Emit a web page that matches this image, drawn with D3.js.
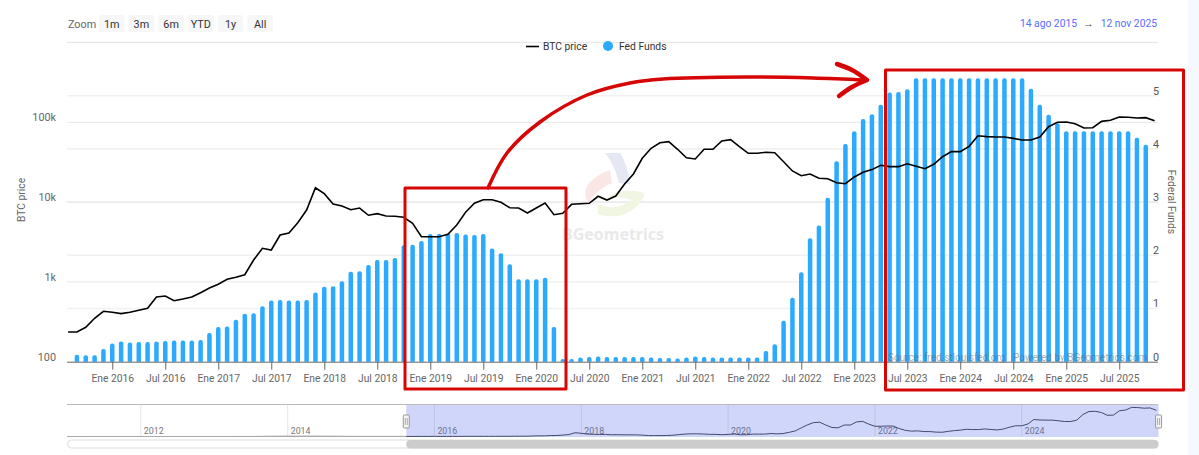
<!DOCTYPE html>
<html>
<head>
<meta charset="utf-8">
<script src="https://cdn.jsdelivr.net/npm/d3@7"></script>
<style>
	html, body { margin: 0; padding: 0; background: #f5f8ff; }
	svg { display: block; font-family: Roboto, "Noto Sans", sans-serif; }
</style>
</head>
<body>
<div id="graph"></div>
<script>
// monthly values, first month is Aug 2015, last one is Nov 2025
var btcPrice = [
	236, 236, 270, 350, 428,
	416, 400, 416, 441, 467, 647, 665, 581, 611, 647, 733, 839,
	933, 1078, 1142, 1230, 1880, 2636, 2510, 3870, 4100, 5520, 7960, 15140,
	12740, 9470, 8930, 8030, 8430, 6840, 7160, 6700, 6640, 6450, 5420, 3680,
	3680, 3680, 3950, 5160, 7450, 9660, 10720, 10720, 9940, 8510, 8430, 7300,
	8430, 9750, 6950, 7240, 9380, 9550, 9660, 11830, 10620, 11920, 16870, 22490,
	35400, 47200, 55460, 57150, 45900, 35980, 34680, 45900, 45900, 58300, 60500, 49440,
	40900, 40900, 42100, 41600, 32060, 24550, 21430, 22490, 19860, 19630, 17500, 17000,
	20650, 23600, 25530, 28900, 27800, 27800, 30270, 28100, 26200, 29780, 37070, 42850,
	42850, 50000, 67900, 66070, 65460, 65460, 62950, 59980, 59980, 65460, 88100, 100000,
	100700, 95960, 84900, 85500, 102800, 105900, 116400, 115600, 113200, 114300, 104700
];
// bars go from Sep 2015 to Oct 2025
var fedFunds = [
	0.13, 0.12, 0.12, 0.24,
	0.34, 0.38, 0.36, 0.37, 0.37, 0.38, 0.39, 0.40, 0.40, 0.40, 0.41, 0.54,
	0.65, 0.66, 0.79, 0.90, 0.91, 1.04, 1.15, 1.16, 1.15, 1.15, 1.16, 1.30,
	1.41, 1.42, 1.51, 1.69, 1.70, 1.82, 1.91, 1.91, 1.95, 2.19, 2.20, 2.27,
	2.40, 2.40, 2.41, 2.42, 2.39, 2.38, 2.40, 2.13, 2.04, 1.83, 1.55, 1.55,
	1.55, 1.58, 0.65, 0.05, 0.05, 0.08, 0.09, 0.10, 0.09, 0.09, 0.09, 0.09,
	0.09, 0.08, 0.07, 0.07, 0.06, 0.08, 0.10, 0.09, 0.08, 0.08, 0.08, 0.08,
	0.08, 0.08, 0.20, 0.33, 0.77, 1.20, 1.68, 2.32, 2.56, 3.08, 3.77, 4.09,
	4.33, 4.56, 4.65, 4.83, 5.06, 5.07, 5.12, 5.33, 5.33, 5.33, 5.33, 5.33,
	5.33, 5.33, 5.33, 5.33, 5.33, 5.33, 5.33, 5.33, 5.13, 4.83, 4.64, 4.48,
	4.33, 4.33, 4.33, 4.33, 4.33, 4.33, 4.33, 4.33, 4.21, 4.08
];
// only the navigator shows the years before the main chart
var earlyDates = ["2011-01", "2011-07", "2012-01", "2012-07", "2013-01", "2013-07", "2014-01", "2014-07", "2015-01", "2015-07"];
var earlyPrice = [1, 15, 6, 9, 14, 90, 800, 600, 220, 280];

var btcTicks = [100, 1000, 10000, 100000, 1000000];
var btcLabels = ["100", "1k", "10k", "100k", ""];
var fedTicks = [0, 1, 2, 3, 4, 5];
var zoomButtons = ["1m", "3m", "6m", "YTD", "1y", "All"];
var monthNames = { 0: "Ene", 6: "Jul" };

var width = 1199, height = 455;
var parseMonth = d3.utcParse("%Y-%m");
var months = d3.utcMonth.range(Date.UTC(2015, 7, 1), Date.UTC(2025, 11, 1));
var barMonths = months.slice(1, 123);
var red = "#d60606";
var fontSize = 10.3;

var vis = d3.select("#graph").append("svg").attr("width", width).attr("height", height);
vis.append("rect").attr("width", 1188).attr("height", height).attr("fill", "#fff");

var x = d3.scalePoint().domain(months).range([68.1, 1154.6]);
var yBtc = d3.scaleLog().domain([100, 1000000]).range([361.7, 42.5]);
var yFed = d3.scaleLinear().domain([0, 6]).range([361.7, 42.5]);

// grid lines first
vis.append("g").selectAll("line").data(d3.range(1, 7)).enter().append("line")
	.attr("x1", 67).attr("x2", 1158)
	.attr("y1", function (d) { return yFed(d); })
	.attr("y2", function (d) { return yFed(d); })
	.attr("stroke", "#f1f1f1").attr("stroke-width", 1.6);
vis.append("g").selectAll("line").data(btcTicks.slice(1)).enter().append("line")
	.attr("x1", 67).attr("x2", 1158)
	.attr("y1", function (d) { return yBtc(d); })
	.attr("y2", function (d) { return yBtc(d); })
	.attr("stroke", "#e8e8e8");

// watermark
var logo = vis.append("g");
logo.append("path").attr("d", "M605,153 L620,153 Q628,165 630,184 L619,183 Q615,165 605,153Z").attr("fill", "#e5e7f2");
logo.append("path").attr("d", "M610,170 L612,183 Q598,188 588,204 Q582,190 590,182 Q598,174 610,170Z").attr("fill", "#fbe6e6");
logo.append("path").attr("d", "M606,198 Q622,186 645,193 Q638,212 618,216 Q605,217 598,214 L598,204 Q615,212 632,200 Q620,195 606,198Z").attr("fill", "#f1f6e2");
vis.append("text").attr("x", 562).attr("y", 240).attr("fill", "#e9e9e9")
	.attr("font-family", "Noto Sans").attr("font-size", 16).attr("font-weight", 700).text("BGeometrics");

// fed funds bars with a rounded top
var barW = 4.5, barR = 2;
vis.append("g").selectAll("path").data(fedFunds).enter().append("path")
	.attr("fill", "#2baaff")
	.attr("d", function (d, i) {
		var cx = x(barMonths[i]);
		var top = yFed(d), base = yFed(0);
		var r = Math.min(barR, base - top);
		return "M" + (cx - barW / 2) + "," + base + "V" + (top + r) +
			"Q" + (cx - barW / 2) + "," + top + " " + (cx - barW / 2 + r) + "," + top +
			"H" + (cx + barW / 2 - r) +
			"Q" + (cx + barW / 2) + "," + top + " " + (cx + barW / 2) + "," + (top + r) +
			"V" + base + "Z";
	});

// source texts sit on top of the bars
vis.append("g").attr("fill", "#666").attr("fill-opacity", 0.55).attr("font-size", 10)
	.call(function (g) {
		g.append("text").attr("x", 888).attr("y", 361).text("Source: fred.stlouisfed.org");
		g.append("text").attr("x", 1013).attr("y", 361).text("Powered by BGeometrics.com");
	});

// btc line
var line = d3.line()
	.x(function (d, i) { return x(months[i]); })
	.y(function (d) { return yBtc(d); });
vis.append("path").datum(btcPrice).attr("d", line)
	.attr("fill", "none").attr("stroke", "#000").attr("stroke-width", 1.6);

// axes
var xAxis = d3.axisBottom(x)
	.tickValues(months.filter(function (d) { return d.getUTCMonth() % 6 == 0; }))
	.tickSize(8).tickPadding(5)
	.tickFormat(function (d) { return monthNames[d.getUTCMonth()] + " " + d.getUTCFullYear(); });
var gx = vis.append("g").attr("transform", "translate(0,361.7)").call(xAxis);
gx.select(".domain").attr("d", "M67,0.5H1158").attr("stroke", "#666");
gx.selectAll(".tick line").attr("stroke", "#666");
gx.selectAll(".tick text").attr("fill", "#666").attr("font-size", fontSize);
gx.attr("font-family", null).attr("font-size", null);

var gl = vis.append("g").attr("transform", "translate(56,0)")
	.call(d3.axisLeft(yBtc).tickValues(btcTicks.slice(0, 4)).tickSize(0).tickPadding(0)
		.tickFormat(function (d) { return btcLabels[btcTicks.indexOf(d)]; }));
gl.attr("font-family", null).select(".domain").remove();
gl.selectAll("text").attr("fill", "#666").attr("font-size", 10.8).attr("dy", "-0.15em");

var gr = vis.append("g").attr("transform", "translate(1153,0)")
	.call(d3.axisRight(yFed).tickValues(fedTicks).tickSize(0).tickPadding(0).tickFormat(d3.format("d")));
gr.attr("font-family", null).select(".domain").remove();
gr.selectAll("text").attr("fill", "#555").attr("font-size", 10.8).attr("dy", "-0.15em");

vis.append("text").attr("transform", "translate(25,200) rotate(-90)").attr("text-anchor", "middle")
	.attr("fill", "#666").attr("font-size", fontSize).text("BTC price");
vis.append("text").attr("transform", "translate(1168,202) rotate(90)").attr("text-anchor", "middle")
	.attr("fill", "#666").attr("font-size", fontSize).text("Federal Funds");

// range selector
vis.append("text").attr("x", 68).attr("y", 27.5).attr("fill", "#666").attr("font-size", fontSize + 0.5).text("Zoom");
var btn = vis.append("g").selectAll("g").data(zoomButtons).enter().append("g")
	.attr("transform", function (d, i) { return "translate(" + (99 + i * 29.7) + ",15)"; });
btn.append("rect").attr("width", 25.5).attr("height", 17).attr("rx", 2).attr("fill", "#f7f7f7");
btn.append("text").attr("x", 12.7).attr("y", 12.5).attr("text-anchor", "middle")
	.attr("fill", "#333").attr("font-size", fontSize + 0.5).text(function (d) { return d; });

// date range, the arrow has its own spot
var dateRange = vis.append("g").attr("fill", "#5a6dff").attr("font-size", fontSize);
dateRange.append("text").attr("x", 1077).attr("y", 27).attr("text-anchor", "end").text("14 ago 2015");
dateRange.append("text").attr("x", 1088.5).attr("y", 27).attr("text-anchor", "middle").attr("fill", "#555").text("\u2192");
dateRange.append("text").attr("x", 1157).attr("y", 27).attr("text-anchor", "end").text("12 nov 2025");

// legend
vis.append("line").attr("x1", 526).attr("x2", 539).attr("y1", 46.5).attr("y2", 46.5)
	.attr("stroke", "#000").attr("stroke-width", 1.6);
vis.append("text").attr("x", 543).attr("y", 50).attr("fill", "#333").attr("font-size", fontSize).text("BTC price");
vis.append("circle").attr("cx", 608).attr("cy", 46).attr("r", 5).attr("fill", "#2baaff");
vis.append("text").attr("x", 619).attr("y", 50).attr("fill", "#333").attr("font-size", fontSize).text("Fed Funds");

// navigator
var navX = d3.scaleUtc().domain([Date.UTC(2012, 0, 1), Date.UTC(2024, 0, 1)]).range([140.8, 1021.7]);
var navY = d3.scaleLinear().domain([0, 126000]).range([436.5, 405]);
var navTicks = d3.utcYear.every(2).range(Date.UTC(2012, 0, 1), Date.UTC(2025, 0, 1));
var navDates = earlyDates.map(function (d) { return parseMonth(d); }).concat(months);
var navPrice = earlyPrice.concat(btcPrice);
var selA = navX(Date.UTC(2015, 7, 14)), selB = navX(Date.UTC(2025, 10, 12));
var nav = vis.append("g");
nav.selectAll("line.navgrid").data(navTicks).enter().append("line").attr("class", "navgrid")
	.attr("x1", function (d) { return navX(d); }).attr("x2", function (d) { return navX(d); })
	.attr("y1", 405).attr("y2", 436).attr("stroke", "#e6e6e6");
nav.selectAll("text").data(navTicks).enter().append("text")
	.attr("x", function (d) { return navX(d) + 3; }).attr("y", 434)
	.attr("fill", "#777").attr("font-size", 8.8).text(function (d) { return d.getUTCFullYear(); });
nav.append("path").datum(navPrice)
	.attr("d", d3.line()
		.x(function (d, i) { return navX(navDates[i]); })
		.y(function (d) { return navY(d); }))
	.attr("fill", "none").attr("stroke", "#444").attr("stroke-width", 1);
nav.append("rect").attr("x", selA).attr("y", 405).attr("width", selB - selA).attr("height", 32)
	.attr("fill", "rgb(67,91,235)").attr("fill-opacity", 0.25);
nav.append("line").attr("x1", 67).attr("x2", 1158).attr("y1", 404.5).attr("y2", 404.5).attr("stroke", "#bbb");
nav.append("line").attr("x1", 67).attr("x2", selA).attr("y1", 436.5).attr("y2", 436.5).attr("stroke", "#aaa");
[selA, selB].forEach(function (h) {
	nav.append("rect").attr("x", h - 3).attr("y", 415).attr("width", 6).attr("height", 13).attr("rx", 1)
		.attr("fill", "#f4f4f4").attr("stroke", "#999");
	nav.append("path").attr("d", "M" + (h - 1) + ",418V425M" + (h + 1) + ",418V425").attr("stroke", "#999").attr("stroke-width", 0.8);
});
// scrollbar
nav.append("rect").attr("x", 67.5).attr("y", 440).attr("width", 1090).attr("height", 8).attr("rx", 4)
	.attr("fill", "#fff").attr("stroke", "#ddd");
nav.append("rect").attr("x", selA).attr("y", 440).attr("width", selB - selA).attr("height", 8.5).attr("rx", 4)
	.attr("fill", "#cccccc");

// red hand drawn boxes and arrow on top of everything
var notes = vis.append("g").attr("fill", "none").attr("stroke", red).attr("stroke-linejoin", "round").attr("stroke-linecap", "round");
notes.append("rect").attr("x", 405).attr("y", 188).attr("width", 161).attr("height", 201).attr("stroke-width", 3);
notes.append("rect").attr("x", 885.5).attr("y", 70).attr("width", 298).attr("height", 320).attr("stroke-width", 3);
var curve = d3.line().curve(d3.curveCatmullRom);
notes.append("path").attr("stroke-width", 3.5)
	.attr("d", curve([[488, 188], [507, 153], [540, 122], [587, 95], [630, 83], [663, 79], [747, 77], [813, 78], [866, 80]]));
notes.append("path").attr("stroke-width", 4.5)
	.attr("d", curve([[837, 64], [852, 70], [867, 80]]) + curve([[867, 80], [852, 87], [839, 96]]));
</script>
</body>
</html>
